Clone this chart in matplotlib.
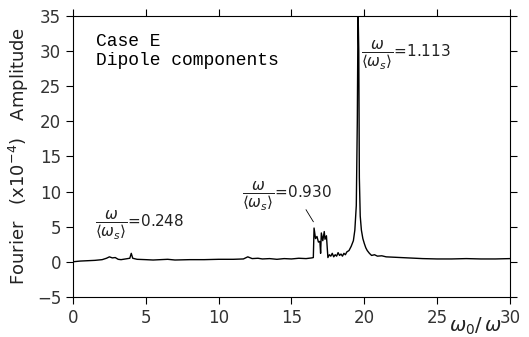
import matplotlib
matplotlib.use("Agg")
import matplotlib.pyplot as plt

# spectrum (omega_0/omega, amplitude x1e-4)
freq = [0, 0.5, 1, 1.5, 2, 2.3, 2.5, 2.7, 2.9, 3.1, 3.3, 3.6, 3.9, 4.0, 4.1, 4.4,
        5, 5.5, 6, 6.5, 7, 8, 9, 10, 11, 11.7, 12.0, 12.3, 12.7, 13, 13.5, 14,
        14.5, 15, 15.5, 16, 16.4, 16.5, 16.55, 16.65, 16.75, 16.85, 16.95, 17.0,
        17.05, 17.15, 17.25, 17.3, 17.4, 17.5, 17.6, 17.7, 17.8, 17.9, 18.0,
        18.1, 18.2, 18.3, 18.4, 18.5, 18.6, 18.7, 18.8, 18.95, 19.1, 19.25,
        19.35, 19.45, 19.52, 19.57, 19.62, 19.66, 19.72, 19.8, 19.9, 20.0, 20.1,
        20.2, 20.35, 20.5, 20.7, 20.9, 21.2, 21.5, 22, 22.5, 23, 24, 25, 26, 27,
        28, 29, 30]
amp = [0.0, 0.1, 0.15, 0.2, 0.3, 0.5, 0.7, 0.55, 0.6, 0.35, 0.3, 0.4, 0.5, 1.2,
       0.5, 0.35, 0.3, 0.25, 0.3, 0.35, 0.25, 0.3, 0.3, 0.35, 0.35, 0.4, 0.7,
       0.45, 0.5, 0.4, 0.45, 0.35, 0.45, 0.4, 0.5, 0.45, 0.55, 0.6, 4.8, 3.3,
       3.6, 2.8, 2.9, 1.2, 4.1, 3.0, 4.3, 3.2, 3.7, 0.6, 1.0, 0.8, 1.2, 0.7, 1.0,
       0.8, 1.3, 0.9, 1.1, 0.8, 1.2, 1.0, 1.4, 1.6, 2.2, 3.0, 4.5, 8.0, 20, 36,
       30, 12, 6.5, 4.5, 3.3, 2.6, 2.0, 1.6, 1.2, 0.9, 1.0, 0.8, 0.85, 0.7,
       0.65, 0.6, 0.55, 0.45, 0.4, 0.4, 0.45, 0.4, 0.4, 0.45]

xticks = [0, 5, 10, 15, 20, 25, 30]
yticks = [-5, 0, 5, 10, 15, 20, 25, 30, 35]

fig = plt.figure(figsize=(5.29, 3.37), dpi=100)
ax = fig.add_axes([0.138, 0.119, 0.826, 0.834])

ax.plot(freq, amp, color="black", linewidth=1.0)
ax.set_xlim(0, 30)
ax.set_ylim(-5, 35)
ax.set_xticks(xticks)
ax.set_yticks(yticks)
ax.tick_params(direction="out", length=5, labelsize=12, labelcolor="#333333",
               top=True, right=True, width=0.8)
for s in ax.spines.values():
    s.set_linewidth(0.8)

ax.set_ylabel(r"Fourier   (x10$^{-4}$)   Amplitude", fontsize=13, color="#222222",
              labelpad=4)
ax.text(0.92, -0.105, r"$\omega_0/\,\omega$", transform=ax.transAxes,
        fontsize=14, ha="center", va="center", color="#222222")

ax.text(1.6, 31.4, "Case E", family="Liberation Mono", fontsize=13, va="center")
ax.text(1.6, 28.6, "Dipole components", family="Liberation Mono", fontsize=13,
        va="center")

lab = r"$\dfrac{\omega}{\langle\omega_s\rangle}$=%s"
ax.text(1.5, 5.1, lab % "0.248", fontsize=11, va="center", color="#222222")
ax.text(11.6, 9.3, lab % "0.930", fontsize=11, va="center", color="#222222")
ax.text(19.75, 29.3, lab % "1.113", fontsize=11, va="center", color="#222222")
ax.plot([16.0, 16.5], [7.4, 5.7], color="black", linewidth=0.6)

fig.savefig("out.png", dpi=100)
